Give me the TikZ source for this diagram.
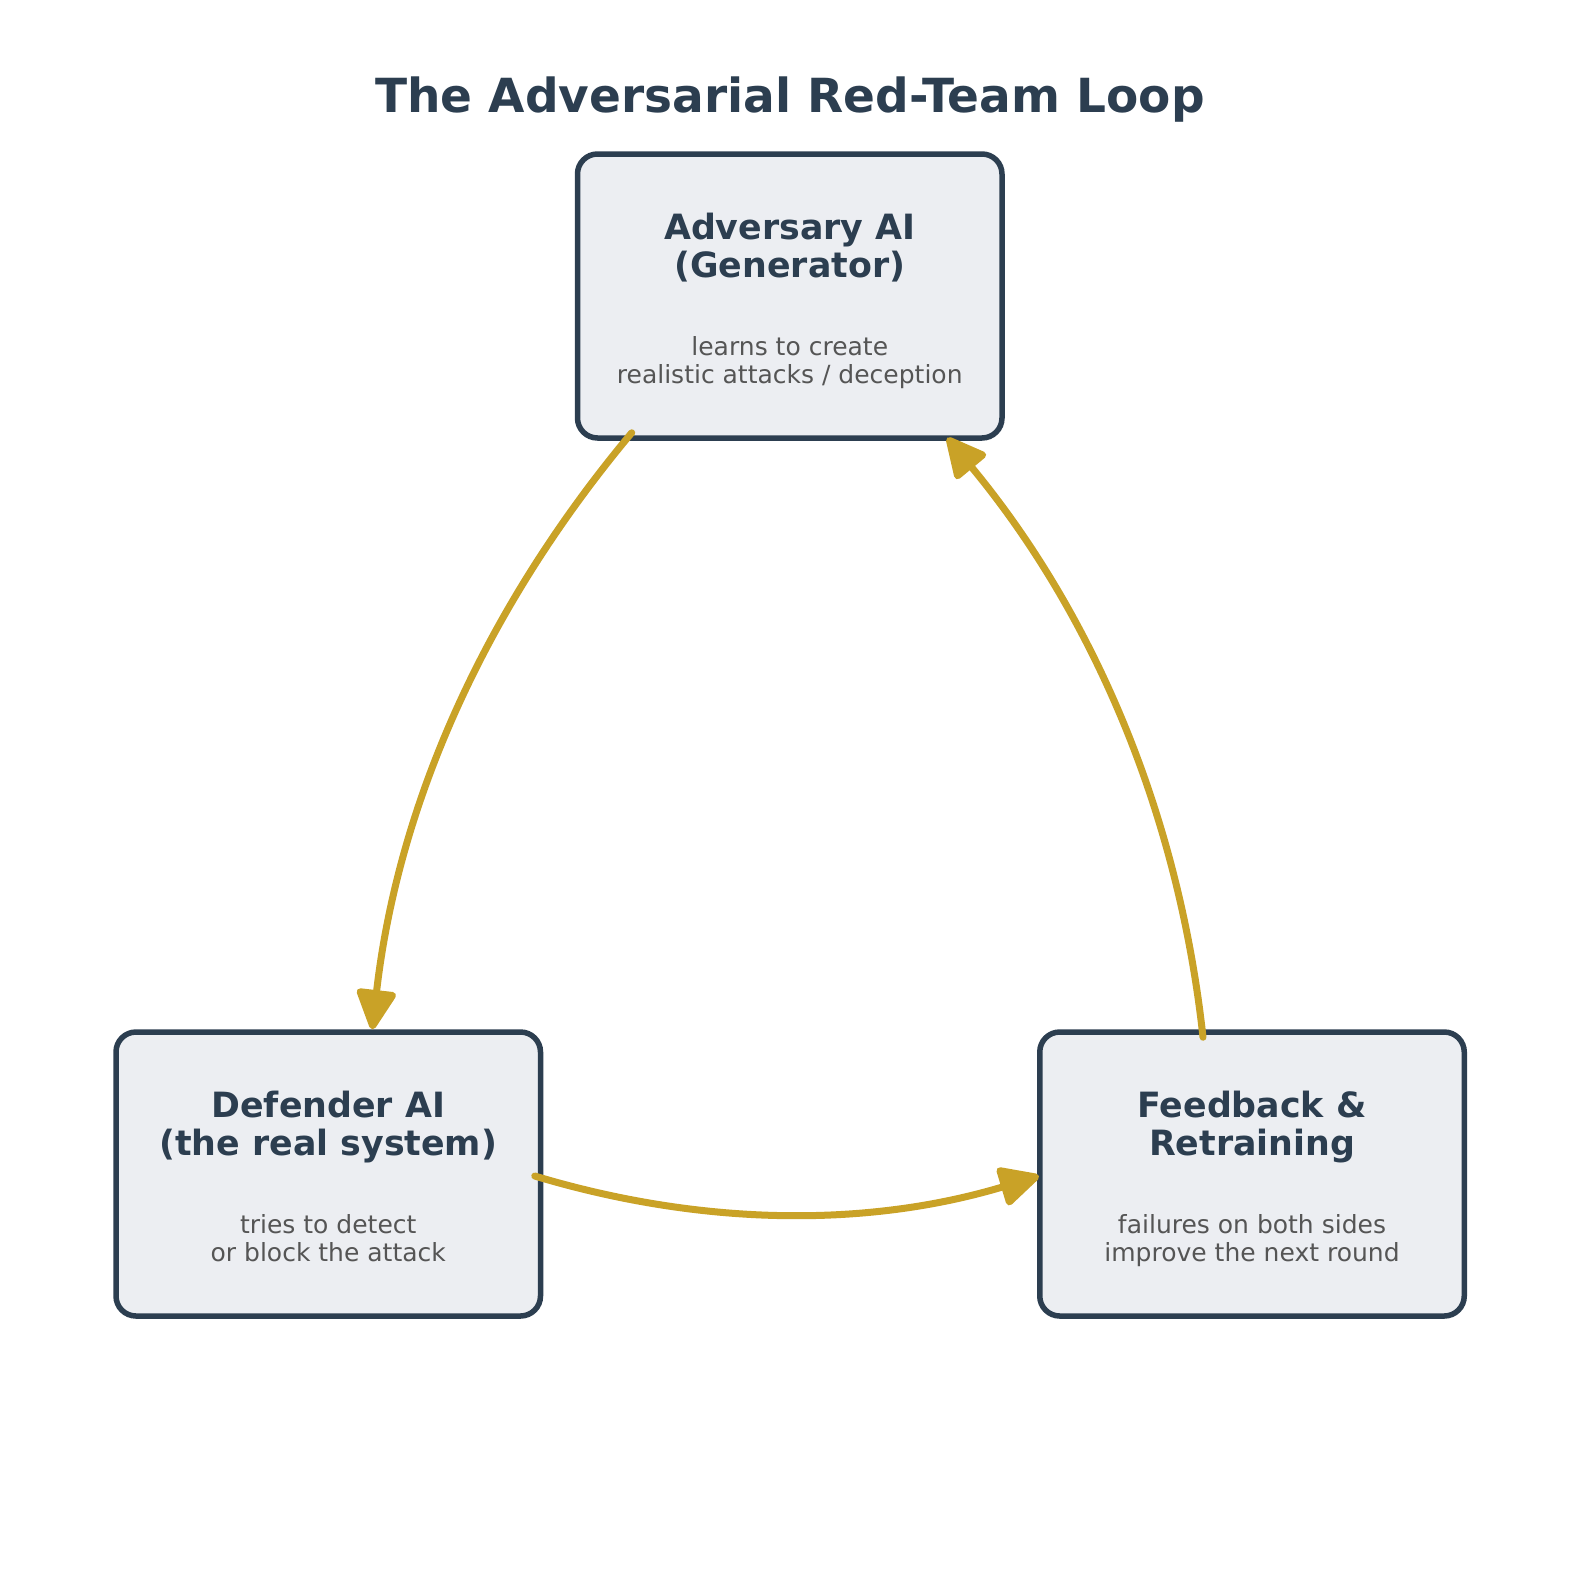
\documentclass[tikz,border=0pt]{standalone}
\usepackage{fontspec}
\setmainfont{DejaVu Sans}
\usetikzlibrary{arrows.meta}
\definecolor{navy}{HTML}{2C3E50}
\definecolor{boxfill}{HTML}{ECEEF2}
\definecolor{gold}{HTML}{C9A227}
\definecolor{subgrey}{HTML}{555555}
\tikzset{
  card/.style={draw=navy, fill=boxfill, line width=5.5pt, rounded corners=20pt,
    minimum width=424.5pt, minimum height=284pt, inner sep=0pt},
  cardtitle/.style={anchor=base, align=center, inner sep=0pt, text=navy,
    font=\fontsize{34.8}{38}\selectfont\bfseries},
  cardsub/.style={anchor=base, align=center, inner sep=0pt, text=subgrey,
    font=\fontsize{25}{27.7}\selectfont},
  flow/.style={draw=gold, line width=7pt, line cap=round,
    -{Triangle[length=44pt,width=42pt,round]}}
}
\begin{document}
\begin{tikzpicture}[x=1pt,y=-1pt]
\useasboundingbox (0,0) rectangle (1580,1580);
\node[anchor=base, inner sep=0pt, text=navy, font=\fontsize{47}{55}\selectfont\bfseries]
  (title) at (790,112) {The Adversarial Red-Team Loop};

\node[card] (adv) at (789.75,296) {};
\node[card] (def) at (328.25,1174) {};
\node[card] (fb) at (1252,1174) {};

\node[cardtitle] (advt) at (789.75,277.3) {Adversary AI\\(Generator)};
\node[cardsub] (advs) at (789.75,383.5) {learns to create\\realistic attacks / deception};
\node[cardtitle] (deft) at (328.25,1155.3) {Defender AI\\(the real system)};
\node[cardsub] (defs) at (328.25,1261.3) {tries to detect\\or block the attack};
\node[cardtitle] (fbt) at (1252,1155.3) {Feedback \&\\Retraining};
\node[cardsub] (fbs) at (1252,1261.3) {failures on both sides\\improve the next round};

\draw[flow] ([xshift=57pt,yshift=8pt]adv.south west)
  .. controls +(-146.1,174.5) and +(25.9,-226.1) .. ([xshift=259pt]def.north west);
\draw[flow] ([xshift=-8.5pt,yshift=-2pt]def.east)
  .. controls +(170,51) and +(-170,51) .. ([xshift=2pt,yshift=-2pt]fb.west);
\draw[flow] ([xshift=166pt,yshift=-8pt]fb.north west)
  .. controls +(-24.6,-225.7) and +(144.8,174.9) .. ([xshift=372.5pt,yshift=3pt]adv.south west);
\end{tikzpicture}
\end{document}
